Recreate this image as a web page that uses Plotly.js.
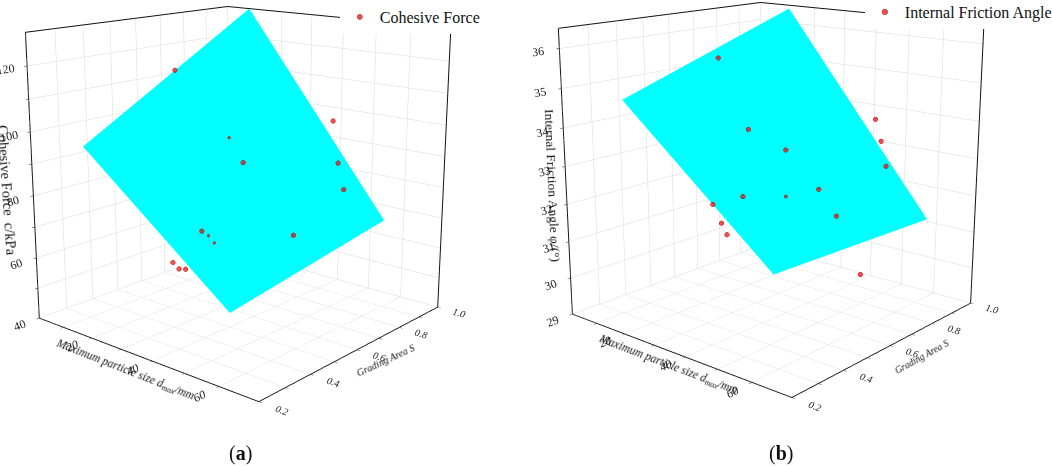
<!DOCTYPE html>
<html>
<head>
<meta charset="utf-8">
<script src="https://cdn.plot.ly/plotly-3.0.1.min.js"></script>
<style>
html,body{margin:0;padding:0;background:#fff;width:1052px;height:467px;overflow:hidden}
#chart{position:absolute;left:0;top:-295px;width:1052px;height:942px}
</style>
</head>
<body>
<div id="chart"></div>
<script>
// (a) cohesive force
const cohesionSize = [9.8, 41.9, 28.4, 34.2, 48.7, 53, 38.5, 40.2, 42.2, 52, 39.6, 41.3, 42.4];
const cohesionArea = [0.655, 0.93, 0.65, 0.633, 0.851, 0.812, 0.409, 0.414, 0.411, 0.602, 0.286, 0.288, 0.299];
const cohesionValue = [113.5, 97.4, 94.7, 88.2, 86.4, 79.6, 73, 71.9, 70.3, 70.1, 67.2, 65.7, 65.6];
const cohesionPlaneSize = [[7.4, 53.9], [8.8, 54.2]];
const cohesionPlaneArea = [[0.32, 0.32], [1, 1]];
const cohesionPlane = [[94.3, 55.3], [130, 64.95]];

// (b) internal friction angle
const frictionSize = [15.7, 46.5, 50.9, 55.6, 32.6, 40.7, 44.2, 48.9, 51.4, 57.9, 42.3, 46.6, 49.4, 70.5];
const frictionArea = [0.628, 0.903, 0.862, 0.812, 0.539, 0.586, 0.37, 0.476, 0.576, 0.557, 0.282, 0.261, 0.246, 0.47];
const frictionValue = [35.45, 33.83, 33.37, 32.87, 33.92, 33.44, 32.73, 32.61, 32.64, 32.13, 32.68, 32.36, 32.18, 31.17];
const frictionPlaneSize = [[12.5, 58.8], [12.5, 58.5]];
const frictionPlaneArea = [[0.296, 0.296], [0.982, 0.977]];
const frictionPlane = [[34.74, 31.32], [36.43, 31.14]];

const sizeTicks = [10, 20, 30, 40, 50, 60];
const sizeLabels = ['', '20', '', '40', '', '60'];
const areaTicks = [0.2, 0.3, 0.4, 0.5, 0.6, 0.7, 0.8, 0.9, 1.0];
const areaLabels = ['0.2', '', '0.4', '', '0.6', '', '0.8', '', '1.0'];
const cohesionTicks = [40, 50, 60, 70, 80, 90, 100, 110, 120];
const cohesionLabels = ['40', '', '60', '', '80', '', '100', '', '120'];
const frictionTicks = [29, 30, 31, 32, 33, 34, 35, 36];

const serif = 'Liberation Serif, serif';
const FIG_TOP = 295, FIG_H = 942;   // figure is taller than the window, keeps the perspective flat

function axis(range, tickvals, ticktext, size, style) {
    return {
        title: {text: ''},
        range: range,
        tickmode: 'array',
        tickvals: tickvals,
        ticktext: ticktext,
        tickfont: {family: serif, size: size, color: '#222', style: style},
        ticks: 'outside',
        ticklen: 3,
        tickcolor: '#222',
        showline: true,
        linecolor: '#111',
        linewidth: 2,
        mirror: true,
        showgrid: true,
        gridcolor: '#d9d9d9',
        gridwidth: 1,
        showbackground: false,
        showspikes: false,
        zeroline: false
    };
}

function scene(domainX, eye, centerZ, zAxis) {
    return {
        domain: {x: domainX, y: [0, 1]},
        aspectmode: 'manual',
        aspectratio: {x: 1, y: 1, z: 1},
        camera: {eye: eye, center: {x: 0, y: 0, z: centerZ}, projection: {type: 'perspective'}},
        xaxis: axis([1, 71], sizeTicks, sizeLabels, 12, 'italic'),
        yaxis: axis([0.2, 1], areaTicks, areaLabels, 11, 'italic'),
        zaxis: zAxis
    };
}

function points(x, y, z, dot, name, sceneId, legendId) {
    return {
        type: 'scatter3d', mode: 'markers', name: name, scene: sceneId, legend: legendId, showlegend: true,
        x: x, y: y, z: z,
        marker: {size: dot, color: '#f00000', line: {color: '#a00000', width: 1}}
    };
}

function plane(x, y, z, sceneId) {
    return {
        type: 'surface', scene: sceneId, showscale: false, showlegend: false,
        x: x, y: y, z: z,
        colorscale: [[0, '#00ffff'], [1, '#00ffff']],
        lighting: {ambient: 1, diffuse: 0, specular: 0, roughness: 1, fresnel: 0},
        hoverinfo: 'skip'
    };
}

// the dots half sunk in the plane look smaller
const dotsA = cohesionSize.map((_, i) => [2, 7, 8].includes(i) ? 3.2 : 5.5);
const dotsB = frictionSize.map((_, i) => i === 7 ? 3.8 : 5.5);

const data = [
    plane(cohesionPlaneSize, cohesionPlaneArea, cohesionPlane, 'scene'),
    points(cohesionSize, cohesionArea, cohesionValue, dotsA, 'Cohesive Force', 'scene', 'legend'),
    plane(frictionPlaneSize, frictionPlaneArea, frictionPlane, 'scene2'),
    points(frictionSize, frictionArea, frictionValue, dotsB, 'Internal Friction Angle', 'scene2', 'legend2')
];

const legendFont = {family: serif, size: 16, color: '#111'};
const figY = py => 1 - (py + FIG_TOP) / FIG_H;
const eye = {x: 2.46, y: -2.855, z: 0.996};

function label(text, px, py, size, angle, style) {
    return {
        text: text, x: px / 1052, y: figY(py), xref: 'paper', yref: 'paper', showarrow: false,
        xanchor: 'center', yanchor: 'middle',
        textangle: angle, font: {family: serif, size: size, color: '#111', style: style}
    };
}

const layout = {
    width: 1052,
    height: FIG_H,
    margin: {l: 0, r: 0, t: 0, b: 0, autoexpand: false},
    paper_bgcolor: '#fff',
    showlegend: true,
    scene: scene([0, 0.4582], eye, 0, axis([40, 130], cohesionTicks, cohesionLabels, 12)),
    scene2: scene([0.5068, 0.9649], eye, -0.014, axis([29, 36.5], frictionTicks, frictionTicks.map(String), 12)),
    legend: {x: 0.323, y: figY(0), xanchor: 'left', yanchor: 'top', bgcolor: '#fff', font: legendFont},
    legend2: {x: 0.8221, y: figY(-5), xanchor: 'left', yanchor: 'top', bgcolor: '#fff', font: legendFont},
    annotations: [
        label('Cohesive Force  c/kPa', 7, 190, 14.5, 86),
        label('Maximum particle size d<sub>max</sub>/mm', 125, 370, 11.5, 21.5, 'italic'),
        label('Grading Area S', 385, 360, 10, -25, 'italic'),
        label('Internal Friction Angle φ/(°)', 553, 185, 13.5, 87.5),
        label('Maximum particle size d<sub>max</sub>/mm', 668, 365, 11.5, 21, 'italic'),
        label('Grading Area S', 922, 357, 9.5, -29, 'italic'),
        label('(<b>a</b>)', 240, 453, 20, 0),
        label('(<b>b</b>)', 781, 453, 20, 0)
    ]
};

const gd = document.getElementById('chart');
Plotly.newPlot(gd, data, layout, {displayModeBar: false}).then(() => {
    // tick labels sit closer to the axis lines than plotly's default pad
    ['scene', 'scene2'].forEach(id => {
        const s = gd._fullLayout[id]._scene;
        if (s && s.glplot && s.glplot.axes) {
            s.glplot.axes.update({tickPad: [3, 3, 3]});
            s.glplot.redraw();
        }
    });
});
</script>
</body>
</html>
